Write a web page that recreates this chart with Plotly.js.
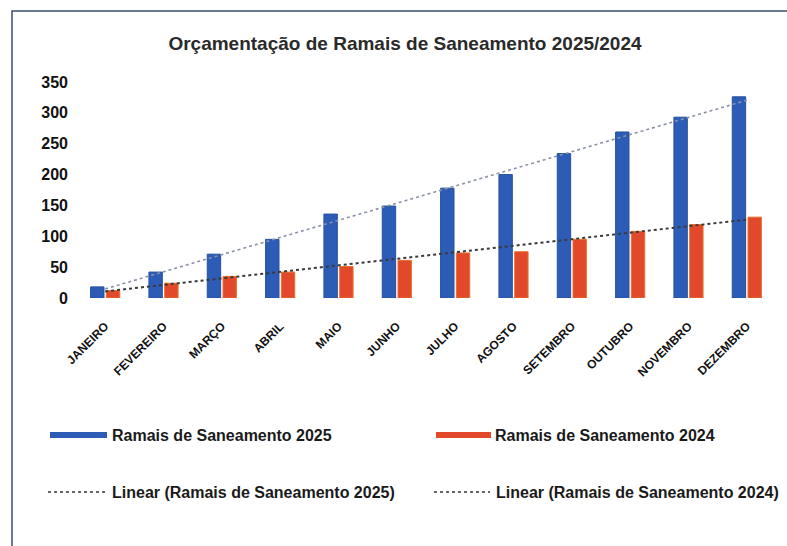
<!DOCTYPE html>
<html>
<head>
<meta charset="utf-8">
<script src="https://cdn.plot.ly/plotly-3.0.1.min.js"></script>
<style>html,body{margin:0;padding:0;background:#fff;}#chart{width:787px;height:546px;}</style>
</head>
<body>
<div id="chart"></div>
<script>
const months = ["JANEIRO","FEVEREIRO","MARÇO","ABRIL","MAIO","JUNHO","JULHO","AGOSTO","SETEMBRO","OUTUBRO","NOVEMBRO","DEZEMBRO"];
const ramais2025 = [18, 42, 71, 95, 136, 149, 178, 200, 234, 269, 293, 326];
const ramais2024 = [12, 24, 35, 42, 51, 61, 73, 75, 95, 108, 119, 131];
const name2025 = "Ramais de Saneamento 2025";
const name2024 = "Ramais de Saneamento 2024";
const yTicks = [0, 50, 100, 150, 200, 250, 300, 350];

function linearFit(vals) {
  const n = vals.length;
  const xs = vals.map((_, i) => i + 1);
  const mx = xs.reduce((a, b) => a + b, 0) / n;
  const my = vals.reduce((a, b) => a + b, 0) / n;
  let sxy = 0, sxx = 0;
  for (let i = 0; i < n; i++) { sxy += (xs[i] - mx) * (vals[i] - my); sxx += (xs[i] - mx) ** 2; }
  const b = sxy / sxx, a = my - b * mx;
  return xs.map(x => a + b * x);
}

const W = 787, H = 546;
const M = {l: 76, r: 11, t: 82, b: 248};
const PW = W - M.l - M.r, PH = H - M.t - M.b;
const px = x => (x - M.l) / PW;
const py = y => (H - M.b - y) / PH;

const FONT = "Liberation Sans, Arial, sans-serif";
const blue = "#2c5cb6", red = "#e2492b";

const traces = [
  {type: "bar", x: months, y: ramais2025, name: name2025, marker: {color: blue, line: {color: "#24509e", width: 1}}},
  {type: "bar", x: months, y: ramais2024, name: name2024, marker: {color: red, line: {color: "#e8702c", width: 1}}},
  {type: "scatter", mode: "lines", x: months, y: linearFit(ramais2025), name: "Linear (" + name2025 + ")",
   line: {color: "#8a93a6", width: 1.6, dash: "dot"}},
  {type: "scatter", mode: "lines", x: months, y: linearFit(ramais2024), name: "Linear (" + name2024 + ")",
   line: {color: "#3a3a3a", width: 2, dash: "dot"}}
];

const legFont = {family: FONT, size: 16, color: "#1a1a1a"};
const shapes = [
  {type: "rect", xref: "paper", yref: "paper", x0: px(12), x1: px(800), y0: py(560), y1: py(11),
   line: {color: "#3d4d70", width: 1.5}, fillcolor: "rgba(0,0,0,0)", layer: "below"},
  {type: "line", xref: "paper", yref: "paper", x0: px(50), x1: px(107), y0: py(435), y1: py(435), line: {color: blue, width: 6}},
  {type: "line", xref: "paper", yref: "paper", x0: px(436), x1: px(491), y0: py(435), y1: py(435), line: {color: red, width: 6}},
  {type: "line", xref: "paper", yref: "paper", x0: px(48), x1: px(105), y0: py(492), y1: py(492), line: {color: "#333", width: 1.5, dash: "dot"}},
  {type: "line", xref: "paper", yref: "paper", x0: px(434), x1: px(490), y0: py(492), y1: py(492), line: {color: "#333", width: 1.5, dash: "dot"}}
];
const annotations = [
  {xref: "paper", yref: "paper", x: px(110), y: py(435), xanchor: "left", yanchor: "middle", showarrow: false, text: "<b>" + name2025 + "</b>", font: legFont},
  {xref: "paper", yref: "paper", x: px(493), y: py(435), xanchor: "left", yanchor: "middle", showarrow: false, text: "<b>" + name2024 + "</b>", font: legFont},
  {xref: "paper", yref: "paper", x: px(110), y: py(492), xanchor: "left", yanchor: "middle", showarrow: false, text: "<b>Linear (" + name2025 + ")</b>", font: legFont},
  {xref: "paper", yref: "paper", x: px(494), y: py(492), xanchor: "left", yanchor: "middle", showarrow: false, text: "<b>Linear (" + name2024 + ")</b>", font: legFont}
];

const layout = {
  width: W, height: H,
  margin: M,
  paper_bgcolor: "#ffffff", plot_bgcolor: "#ffffff",
  font: {family: FONT, color: "#1a1a1a"},
  title: {text: "<b>Orçamentação de Ramais de Saneamento 2025/2024</b>", x: 405 / W, xanchor: "center", y: 1 - 43 / H, yanchor: "middle",
          font: {family: FONT, size: 19, color: "#2a2a2a"}},
  barmode: "group", bargap: 0.46, bargroupgap: 0.15,
  showlegend: false,
  xaxis: {type: "category", tickangle: -45, showgrid: false, zeroline: false, showline: false, ticks: "",
          tickvals: months, ticktext: months.map(m => "<b>" + m + "</b>"),
          ticklabelstandoff: 18,
          tickfont: {family: FONT, size: 12, color: "#111"}, automargin: false},
  yaxis: {range: [0, 350], tickvals: yTicks, ticktext: yTicks.map(v => "<b>" + v + "</b>"), showgrid: false, zeroline: false, showline: false, ticks: "",
          ticklabelstandoff: 7,
          tickfont: {family: FONT, size: 16, color: "#111"}, automargin: false},
  shapes: shapes,
  annotations: annotations
};

Plotly.newPlot("chart", traces, layout, {displayModeBar: false, staticPlot: true});
</script>
</body>
</html>
